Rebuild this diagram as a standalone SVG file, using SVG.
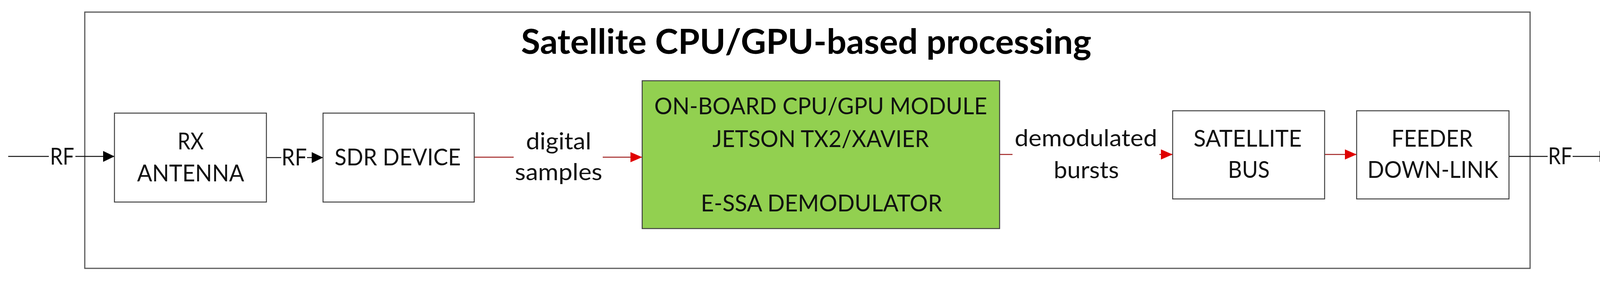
<svg xmlns="http://www.w3.org/2000/svg" width="4148" height="723" viewBox="0 0 4148 723">
<style>
.frame{fill:none;stroke:#595959;stroke-width:3}
.box{fill:#fff;stroke:#404040;stroke-width:2.5}
.green{fill:#92D050;stroke:#404040;stroke-width:2.5}
.t{font-family:Lato,"Liberation Sans",sans-serif;font-size:60px;fill:#111;text-anchor:middle}
.title{font-family:Lato,"Liberation Sans",sans-serif;font-size:88px;font-weight:bold;fill:#000;text-anchor:middle}
.blk{fill:none;stroke:#111;stroke-width:2.5}
.red{fill:none;stroke:#a02020;stroke-width:2.5}
.bg{fill:#fff}
</style>
<defs>
<marker id="ab" viewBox="0 0 29 28" refX="29" refY="14" markerWidth="29" markerHeight="28" markerUnits="userSpaceOnUse" orient="auto"><path d="M0,0 L29,14 L0,28 Z" fill="#000"/></marker>
<marker id="ar" viewBox="0 0 30 26" refX="30" refY="13" markerWidth="30" markerHeight="26" markerUnits="userSpaceOnUse" orient="auto"><path d="M0,0 L30,13 L0,26 Z" fill="#e00000"/></marker>
</defs>
<rect width="4148" height="723" fill="#fff"/>
<g id="frame">
<rect class="frame" x="217" y="31" width="3700" height="657"/>
<text class="title" x="2064" y="138" textLength="1460" lengthAdjust="spacingAndGlyphs">Satellite CPU/GPU-based processing</text>
</g>
<g id="connectors">
<path class="blk" d="M21,401 H293" marker-end="url(#ab)"/>
<rect class="bg" x="125" y="370" width="68" height="60"/>
<text class="t" x="159" y="422" textLength="62" lengthAdjust="spacingAndGlyphs">RF</text>
<path class="blk" d="M682,404 H827" marker-end="url(#ab)"/>
<rect class="bg" x="720" y="372" width="66" height="60"/>
<text class="t" x="753" y="424" textLength="65" lengthAdjust="spacingAndGlyphs">RF</text>
<path class="red" d="M1214,403 H1644" marker-end="url(#ar)"/>
<rect class="bg" x="1315" y="330" width="228" height="150"/>
<text class="t" x="1430" y="383" textLength="167" lengthAdjust="spacingAndGlyphs">digital</text>
<text class="t" x="1430" y="462" textLength="224" lengthAdjust="spacingAndGlyphs">samples</text>
<path class="red" d="M2559,396 H3002" marker-end="url(#ar)"/>
<rect class="bg" x="2592" y="320" width="376" height="150"/>
<text class="t" x="2780" y="375" textLength="365" lengthAdjust="spacingAndGlyphs">demodulated</text>
<text class="t" x="2781" y="457" textLength="167" lengthAdjust="spacingAndGlyphs">bursts</text>
<path class="red" d="M3391,396 H3473" marker-end="url(#ar)"/>
<path class="blk" d="M3863,401 H4124" marker-end="url(#ab)"/>
<rect class="bg" x="3962" y="368" width="64" height="60"/>
<text class="t" x="3994" y="421" textLength="62" lengthAdjust="spacingAndGlyphs">RF</text>
</g>
<g id="rx-antenna">
<rect class="box" x="293" y="290" width="389" height="228"/>
<text class="t" x="488" y="383" textLength="67" lengthAdjust="spacingAndGlyphs">RX</text>
<text class="t" x="488" y="465" textLength="274" lengthAdjust="spacingAndGlyphs">ANTENNA</text>
</g>
<g id="sdr-device">
<rect class="box" x="827" y="290" width="387" height="228"/>
<text class="t" x="1018" y="424" textLength="323" lengthAdjust="spacingAndGlyphs">SDR DEVICE</text>
</g>
<g id="cpu-gpu-module">
<rect class="green" x="1644" y="207" width="915" height="379"/>
<text class="t" x="2101" y="293" textLength="852" lengthAdjust="spacingAndGlyphs">ON-BOARD CPU/GPU MODULE</text>
<text class="t" x="2101" y="377" textLength="554" lengthAdjust="spacingAndGlyphs">JETSON TX2/XAVIER</text>
<text class="t" x="2103" y="542" textLength="618" lengthAdjust="spacingAndGlyphs">E-SSA DEMODULATOR</text>
</g>
<g id="satellite-bus">
<rect class="box" x="3002" y="284" width="389" height="226"/>
<text class="t" x="3194" y="376" textLength="277" lengthAdjust="spacingAndGlyphs">SATELLITE</text>
<text class="t" x="3197" y="456" textLength="107" lengthAdjust="spacingAndGlyphs">BUS</text>
</g>
<g id="feeder-downlink">
<rect class="box" x="3473" y="284" width="390" height="226"/>
<text class="t" x="3666" y="376" textLength="208" lengthAdjust="spacingAndGlyphs">FEEDER</text>
<text class="t" x="3668" y="456" textLength="335" lengthAdjust="spacingAndGlyphs">DOWN-LINK</text>
</g>
</svg>
